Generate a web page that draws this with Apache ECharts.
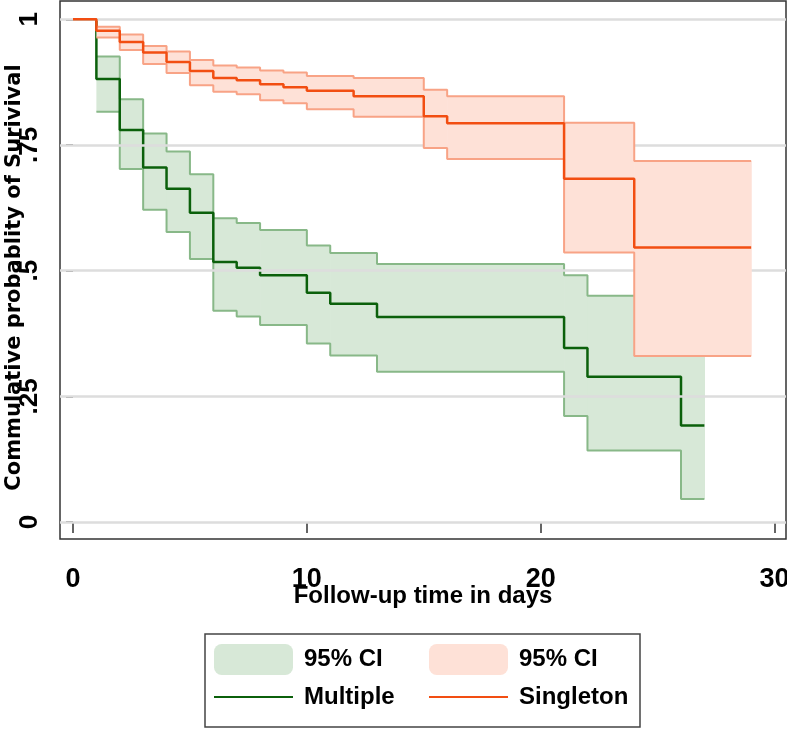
<!DOCTYPE html>
<html>
<head>
<meta charset="utf-8">
<script src="https://cdn.jsdelivr.net/npm/echarts@6/dist/echarts.min.js"></script>
<style>
  html, body { margin: 0; padding: 0; background: #ffffff; }
  #chart { width: 787px; height: 729px; }
</style>
</head>
<body>
<div id="chart"></div>
<script>
// ---- Data ----
const xTicks = [0, 10, 20, 30];
const yTicks = [0, 0.25, 0.5, 0.75, 1];
const yTickLabels = ['0', '.25', '.5', '.75', '1'];

// Multiple births group (step starts; last entry is end of follow-up)
const multTime  = [0, 1, 2, 3, 4, 5, 6, 7, 8, 10, 11, 13, 21, 22, 26, 27];
const multSurv  = [1, 0.881, 0.780, 0.705, 0.663, 0.615, 0.517, 0.506, 0.491, 0.456, 0.434, 0.408, 0.346, 0.289, 0.192, 0.192];
const multLower = [null, 0.816, 0.702, 0.621, 0.577, 0.523, 0.420, 0.409, 0.392, 0.355, 0.331, 0.299, 0.211, 0.142, 0.046, 0.046];
const multUpper = [null, 0.926, 0.841, 0.773, 0.737, 0.692, 0.604, 0.595, 0.581, 0.550, 0.535, 0.513, 0.491, 0.450, 0.450, 0.450];

// Singleton group
const singTime  = [0, 1, 2, 3, 4, 5, 6, 7, 8, 9, 10, 12, 15, 16, 21, 24, 29];
const singSurv  = [1, 0.977, 0.955, 0.934, 0.915, 0.897, 0.883, 0.879, 0.871, 0.865, 0.858, 0.847, 0.807, 0.793, 0.683, 0.546, 0.546];
const singLower = [null, 0.964, 0.939, 0.911, 0.893, 0.869, 0.856, 0.851, 0.839, 0.833, 0.821, 0.806, 0.744, 0.722, 0.536, 0.330, 0.330];
const singUpper = [null, 0.985, 0.970, 0.947, 0.936, 0.919, 0.908, 0.904, 0.898, 0.894, 0.887, 0.883, 0.860, 0.847, 0.794, 0.718, 0.718];

// ---- Styles ----
const GREEN = '#0b600b', GREEN_EDGE = '#88b888', GREEN_FILL = '#d7e8d7';
const ORANGE = '#f24e12', ORANGE_EDGE = '#f8a386', ORANGE_FILL = '#fee1d7';
const BOLD_SANS = '"Liberation Sans", Arial, sans-serif';

function pairs(time, vals) {
  return time.map((t, i) => [t, vals[i]]).filter(p => p[1] != null);
}
function rects(time, lower, upper) {
  const out = [];
  for (let i = 0; i < time.length - 1; i++) {
    if (lower[i] == null) continue;
    out.push([time[i], time[i + 1], lower[i], upper[i]]);
  }
  return out;
}
function bandSeries(name, data, color, z) {
  return {
    name: name, type: 'custom', z: z, silent: true,
    itemStyle: { color: color },
    encode: { x: [0, 1], y: [2, 3] },
    data: data,
    renderItem: function (params, api) {
      const p0 = api.coord([api.value(0), api.value(3)]);
      const p1 = api.coord([api.value(1), api.value(2)]);
      return {
        type: 'rect',
        shape: { x: p0[0], y: p0[1], width: p1[0] - p0[0] + 0.6, height: p1[1] - p0[1] },
        style: { fill: color }
      };
    }
  };
}
function stepLine(name, data, color, width, z) {
  return {
    name: name, type: 'line', step: 'end', z: z, silent: true,
    symbol: 'none', showSymbol: false,
    lineStyle: { color: color, width: width },
    itemStyle: { color: color },
    data: data
  };
}
function legendBlock(left, names) {
  return {
    data: [
      { name: names[0], icon: 'roundRect' },
      { name: names[1], itemStyle: { opacity: 0, color: 'rgba(0,0,0,0)', borderWidth: 0 } }
    ],
    left: left, top: 644, orient: 'vertical',
    padding: 0, itemWidth: 79, itemHeight: 31, itemGap: 9.5,
    selectedMode: false,
    formatter: function (name) { return name.indexOf('95% CI') >= 0 ? '95% CI' : name; },
    textStyle: {
      fontFamily: BOLD_SANS, fontWeight: 'bold', fontSize: 24, color: '#000000',
      padding: [0, 0, 0, 6]
    }
  };
}

const chart = echarts.init(document.getElementById('chart'), null, { renderer: 'canvas' });

const option = {
  animation: false,
  backgroundColor: '#ffffff',
  grid: {
    left: 60, right: 1, top: 1, bottom: 190,
    show: true, borderColor: '#333333', borderWidth: 1.5,
    containLabel: false, outerBoundsMode: 'none'
  },
  xAxis: {
    type: 'value', min: -0.556, max: 30.49,
    axisLine: { show: false },
    splitLine: { show: false },
    axisTick: { show: true, customValues: xTicks, length: 11, lineStyle: { color: '#333333', width: 1.5 } },
    axisLabel: {
      customValues: xTicks, margin: 27, color: '#000000',
      fontFamily: BOLD_SANS, fontWeight: 'bold', fontSize: 27
    },
    name: 'Follow-up time in days', nameLocation: 'middle', nameGap: 45, nameMoveOverlap: false,
    nameTextStyle: { fontFamily: BOLD_SANS, fontWeight: 'bold', fontSize: 24, color: '#000000' }
  },
  yAxis: {
    type: 'value', min: -0.0338, max: 1.0364,
    axisLine: { show: false },
    splitLine: { show: false },
    axisTick: { show: true, customValues: yTicks, length: 7, lineStyle: { color: '#333333', width: 1.5 } },
    axisLabel: {
      customValues: yTicks, rotate: 90, margin: 17, color: '#000000',
      fontFamily: BOLD_SANS, fontWeight: 'bold', fontSize: 26,
      formatter: function (v) {
        for (let i = 0; i < yTicks.length; i++) {
          if (Math.abs(yTicks[i] - v) < 1e-6) return yTickLabels[i];
        }
        return '';
      }
    },
    name: 'Commulative probablity of Surivival', nameLocation: 'middle', nameRotate: 90, nameGap: 35,
    nameMoveOverlap: false,
    nameTextStyle: {
      fontFamily: '"DejaVu Sans", sans-serif', fontWeight: 'bold', fontSize: 21, color: '#000000',
      padding: [0, 15, 0, 0]
    }
  },
  legend: [
    legendBlock(213, ['Multiple 95% CI', 'Multiple']),
    legendBlock(428, ['Singleton 95% CI', 'Singleton'])
  ],
  graphic: [{
    type: 'rect', silent: true, z: 100,
    shape: { x: 205, y: 634, width: 435, height: 93 },
    style: { fill: 'none', stroke: '#444444', lineWidth: 1.5 }
  }],
  series: [
    {
      name: 'grid', type: 'line', data: [], z: 1, silent: true,
      markLine: {
        silent: true, symbol: ['none', 'none'], animation: false,
        label: { show: false },
        lineStyle: { color: '#dddddd', width: 2.5, type: 'solid' },
        data: yTicks.map(v => ({ yAxis: v }))
      }
    },
    bandSeries('Multiple 95% CI', rects(multTime, multLower, multUpper), GREEN_FILL, 2),
    stepLine('mult-lower', pairs(multTime, multLower), GREEN_EDGE, 2, 3),
    stepLine('mult-upper', pairs(multTime, multUpper), GREEN_EDGE, 2, 3),
    stepLine('Multiple', pairs(multTime, multSurv), GREEN, 2.5, 4),
    bandSeries('Singleton 95% CI', rects(singTime, singLower, singUpper), ORANGE_FILL, 5),
    stepLine('sing-lower', pairs(singTime, singLower), ORANGE_EDGE, 2, 6),
    stepLine('sing-upper', pairs(singTime, singUpper), ORANGE_EDGE, 2, 6),
    stepLine('Singleton', pairs(singTime, singSurv), ORANGE, 2.5, 7)
  ]
};

chart.setOption(option);
</script>
</body>
</html>
